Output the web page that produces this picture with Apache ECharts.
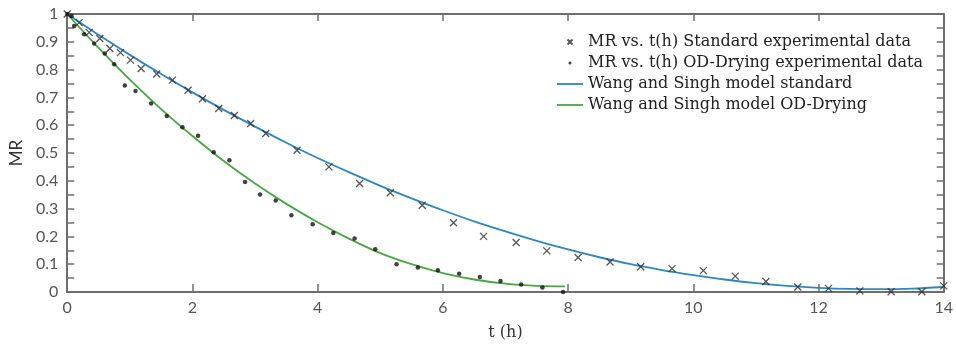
<!DOCTYPE html>
<html>
<head>
<meta charset="utf-8">
<script src="https://cdn.jsdelivr.net/npm/echarts@6/dist/echarts.min.js"></script>
<style>
  html, body { margin: 0; padding: 0; background: #fff; }
  #chart { width: 956px; height: 348px; }
</style>
</head>
<body>
<div id="chart"></div>
<script>
// standard drying, experimental points (t in h, MR)
const stdTime = [0, 0.19, 0.35, 0.52, 0.68, 0.85, 1.01, 1.18, 1.43, 1.68, 1.93, 2.16, 2.42, 2.67, 2.93, 3.17,
  3.67, 4.18, 4.67, 5.16, 5.67, 6.17, 6.65, 7.17, 7.66, 8.16, 8.67, 9.16, 9.66, 10.16, 10.67, 11.16,
  11.67, 12.16, 12.66, 13.16, 13.65, 14.0];
const stdMR = [1.0, 0.969, 0.934, 0.912, 0.876, 0.861, 0.834, 0.804, 0.784, 0.762, 0.726, 0.695, 0.66, 0.635, 0.606, 0.57,
  0.51, 0.45, 0.39, 0.357, 0.312, 0.249, 0.2, 0.178, 0.148, 0.124, 0.108, 0.091, 0.084, 0.077, 0.057, 0.038,
  0.018, 0.013, 0.004, 0.001, 0.001, 0.022];

// OD-drying, experimental points
const odTime = [0, 0.07, 0.11, 0.27, 0.43, 0.6, 0.75, 0.92, 1.09, 1.34, 1.59, 1.84, 2.09, 2.34, 2.59, 2.84,
  3.08, 3.33, 3.58, 3.92, 4.25, 4.59, 4.92, 5.26, 5.6, 5.92, 6.26, 6.59, 6.92, 7.25, 7.59, 7.92];
const odMR = [1.0, 0.993, 0.957, 0.927, 0.894, 0.858, 0.819, 0.743, 0.723, 0.678, 0.633, 0.593, 0.562, 0.503, 0.474, 0.396,
  0.351, 0.329, 0.276, 0.244, 0.212, 0.192, 0.154, 0.1, 0.088, 0.078, 0.066, 0.054, 0.04, 0.027, 0.016, 0.0];

// model curves
const stdModelTime = [0, 0.5, 1, 1.5, 2, 2.5, 3, 3.5, 4, 4.5, 5, 5.5, 6, 6.5, 7, 7.5, 8, 8.5, 9, 9.5, 10,
  10.5, 11, 11.5, 12, 12.5, 13, 13.5, 14];
const stdModelMR = [1.0, 0.925, 0.853, 0.784, 0.718, 0.655, 0.595, 0.537, 0.482, 0.431, 0.382, 0.337, 0.294, 0.254, 0.218,
  0.184, 0.153, 0.125, 0.1, 0.079, 0.061, 0.045, 0.032, 0.022, 0.015, 0.011, 0.01, 0.012, 0.018];

const odModelTime = [0, 0.5, 1, 1.5, 2, 2.5, 3, 3.5, 4, 4.5, 5, 5.5, 6, 6.5, 7, 7.5, 7.95];
const odModelMR = [1.0, 0.878, 0.764, 0.658, 0.561, 0.471, 0.39, 0.317, 0.251, 0.192, 0.14, 0.1, 0.068, 0.045, 0.03, 0.022, 0.02];

const names = [
  'MR vs. t(h) Standard experimental data',
  'MR vs. t(h) OD-Drying experimental data',
  'Wang and Singh model standard',
  'Wang and Singh model OD-Drying',
];

const zip = (xs, ys) => xs.map((x, i) => [x, ys[i]]);

const crossPath = 'path://M0,0L10,10M10,0L0,10';
// padded versions so the legend icons stay small
const crossIcon = 'path://M-9,-9M19,19M0,0L10,10M10,0L0,10';
const dotIcon = 'path://M-12,-12M12,12M0,-2.6A2.6,2.6,0,1,1,0,2.6A2.6,2.6,0,1,1,0,-2.6Z';
const lineIcon = 'path://M0,-7M26,7M0,-0.9L26,-0.9L26,0.9L0,0.9Z';

const axisGray = '#6e6e6e';
const labelFont = 'Lato';
const serif = 'DejaVu Serif';

const chart = echarts.init(document.getElementById('chart'));

chart.setOption({
  animation: false,
  backgroundColor: '#fff',
  grid: { left: 64, right: 9, top: 14, bottom: 56 },
  legend: {
    orient: 'vertical',
    left: 552,
    top: 29,
    itemWidth: 26,
    itemHeight: 14,
    itemGap: 5,
    textStyle: { fontFamily: serif, fontSize: 16, color: '#222' },
    data: [
      { name: names[0], icon: crossIcon },
      { name: names[1], icon: dotIcon },
      { name: names[2], icon: lineIcon },
      { name: names[3], icon: lineIcon },
    ],
  },
  xAxis: [
    {
      type: 'value',
      min: 0,
      max: 14,
      interval: 2,
      name: 't (h)',
      nameLocation: 'middle',
      nameGap: 33,
      nameTextStyle: { fontFamily: serif, fontSize: 16, color: '#333' },
      axisLine: { show: true, onZero: false, lineStyle: { color: axisGray, width: 2 } },
      axisTick: { inside: true, length: 8, lineStyle: { color: axisGray, width: 1.5 } },
      axisLabel: { fontFamily: labelFont, fontSize: 16, color: '#555', margin: 8 },
      splitLine: { show: false },
    },
    {
      type: 'value',
      position: 'top',
      min: 0,
      max: 14,
      interval: 2,
      axisLine: { show: true, onZero: false, lineStyle: { color: axisGray, width: 2 } },
      axisTick: { inside: true, length: 7, lineStyle: { color: axisGray, width: 1.5 } },
      axisLabel: { show: false },
      splitLine: { show: false },
    },
  ],
  yAxis: [
    {
      type: 'value',
      min: 0,
      max: 1,
      interval: 0.1,
      name: 'MR',
      nameLocation: 'middle',
      nameGap: 38,
      nameTextStyle: { fontFamily: labelFont, fontSize: 17, color: '#333' },
      axisLine: { show: true, onZero: false, lineStyle: { color: axisGray, width: 2 } },
      axisTick: { inside: true, length: 7, lineStyle: { color: axisGray, width: 1.5 } },
      minorTick: { show: true, splitNumber: 2, length: 7, lineStyle: { color: axisGray, width: 1.5 } },
      axisLabel: { fontFamily: labelFont, fontSize: 16, color: '#555', margin: 9 },
      splitLine: { show: false },
    },
    {
      type: 'value',
      position: 'right',
      min: 0,
      max: 1,
      interval: 0.1,
      axisLine: { show: true, onZero: false, lineStyle: { color: axisGray, width: 2 } },
      axisTick: { inside: true, length: 7, lineStyle: { color: axisGray, width: 1.5 } },
      minorTick: { show: true, splitNumber: 2, length: 7, lineStyle: { color: axisGray, width: 1.5 } },
      axisLabel: { show: false },
      splitLine: { show: false },
    },
  ],
  series: [
    {
      name: names[2],
      type: 'line',
      data: zip(stdModelTime, stdModelMR),
      smooth: 0.3,
      symbol: 'none',
      lineStyle: { color: '#2f86c3', width: 1.8 },
      itemStyle: { color: '#2f86c3' },
      z: 2,
    },
    {
      name: names[3],
      type: 'line',
      data: zip(odModelTime, odModelMR),
      smooth: 0.3,
      symbol: 'none',
      lineStyle: { color: '#4aa543', width: 1.8 },
      itemStyle: { color: '#4aa543' },
      z: 2,
    },
    {
      name: names[0],
      type: 'scatter',
      data: zip(stdTime, stdMR),
      symbol: crossPath,
      symbolSize: 7,
      itemStyle: { color: '#2a2a2a', borderColor: '#2a2a2a', borderWidth: 1.3 },
      z: 3,
    },
    {
      name: names[1],
      type: 'scatter',
      data: zip(odTime, odMR),
      symbol: 'circle',
      symbolSize: 4.5,
      itemStyle: { color: '#111' },
      z: 3,
    },
  ],
});
</script>
</body>
</html>
